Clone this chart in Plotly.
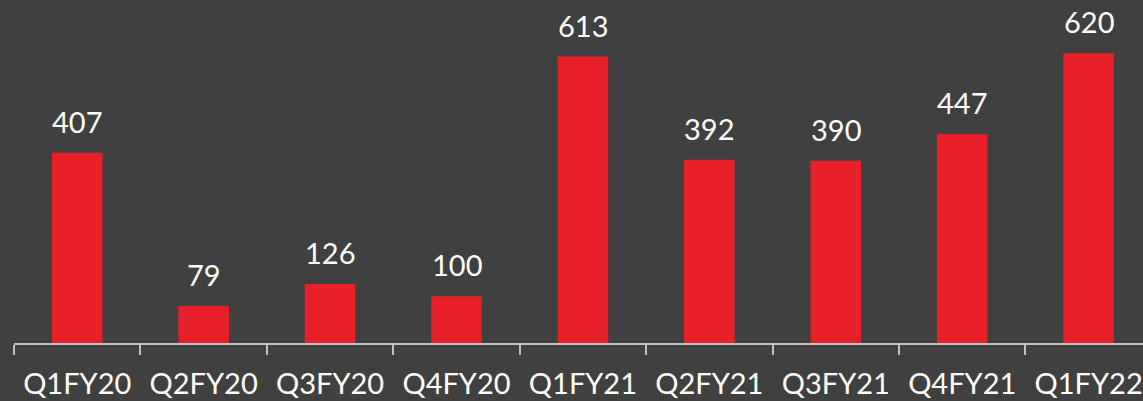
import plotly.graph_objects as go

# quarterly values
quarters = ['Q1FY20', 'Q2FY20', 'Q3FY20', 'Q4FY20', 'Q1FY21',
            'Q2FY21', 'Q3FY21', 'Q4FY21', 'Q1FY22']
values = [407, 79, 126, 100, 613, 392, 390, 447, 620]

BG = '#404040'
RED = '#E8202A'
FONT = 'Lato'

fig = go.Figure()

fig.add_trace(go.Bar(
    x=quarters,
    y=values,
    width=0.4,
    marker=dict(color=RED, line=dict(width=0)),
    hoverinfo='skip'
))

# value labels above the bars
for q, v in zip(quarters, values):
    fig.add_annotation(
        x=q, y=v, text=str(v),
        showarrow=False, yanchor='bottom', yshift=12,
        font=dict(family=FONT, size=29, color='white')
    )

fig.update_layout(
    width=1143,
    height=401,
    margin=dict(l=14, r=0, t=0, b=58),
    paper_bgcolor=BG,
    plot_bgcolor=BG,
    showlegend=False,
    xaxis=dict(
        range=[-0.5, 8.43],
        tickson='boundaries',
        ticks='outside',
        ticklen=10,
        tickwidth=2,
        tickcolor='#bfbfbf',
        showline=True,
        linecolor='#bfbfbf',
        linewidth=2,
        showgrid=False,
        ticklabelstandoff=14,
        tickfont=dict(family=FONT, size=29, color='white'),
    ),
    yaxis=dict(
        range=[0, 734],
        visible=False,
        showgrid=False,
        zeroline=False,
    ),
)

# drop the browser's default page margin so the chart fills the window
fig.write_html("out.html", config={'displayModeBar': False},
               post_script="document.body.style.margin='0';")
